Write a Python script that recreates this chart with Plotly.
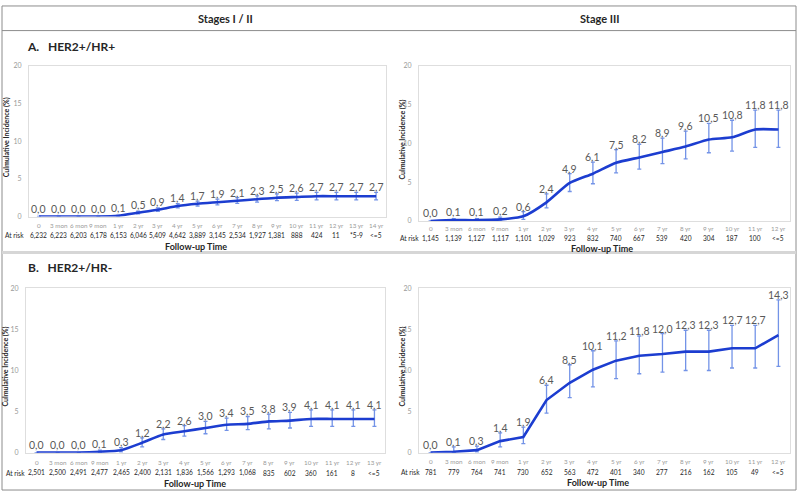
import plotly.graph_objects as go

W, H = 797, 494
FONT = "Lato"

# ---------------- data ----------------
cats_a1 = ["0", "3 mon", "6 mon", "9 mon", "1 yr", "2 yr", "3 yr", "4 yr", "5 yr", "6 yr",
           "7 yr", "8 yr", "9 yr", "10 yr", "11 yr", "12 yr", "13 yr", "14 yr"]
risk_a1 = ["6,232", "6,223", "6,203", "6,178", "6,153", "6,046", "5,409", "4,642", "3,889",
           "3,145", "2,534", "1,927", "1,381", "888", "424", "11", "*5-9", "<=5"]
val_a1 = [0.0, 0.0, 0.0, 0.0, 0.1, 0.5, 0.9, 1.4, 1.7, 1.9, 2.1, 2.3, 2.5, 2.6, 2.7, 2.7, 2.7, 2.7]
lo_a1 = [0, 0, 0, 0, 0.05, 0.35, 0.7, 1.15, 1.4, 1.55, 1.75, 1.9, 2.1, 2.15, 2.2, 2.2, 2.2, 2.2]
hi_a1 = [0, 0, 0, 0, 0.15, 0.7, 1.15, 1.7, 2.05, 2.3, 2.5, 2.75, 3.0, 3.1, 3.2, 3.2, 3.2, 3.2]

cats_a2 = ["0", "3 mon", "6 mon", "9 mon", "1 yr", "2 yr", "3 yr", "4 yr", "5 yr", "6 yr",
           "7 yr", "8 yr", "9 yr", "10 yr", "11 yr", "12 yr"]
risk_a2 = ["1,145", "1,139", "1,127", "1,117", "1,101", "1,029", "923", "832", "740", "667",
           "539", "420", "304", "187", "100", "<=5"]
val_a2 = [0.0, 0.1, 0.1, 0.2, 0.6, 2.4, 4.9, 6.1, 7.5, 8.2, 8.9, 9.6, 10.5, 10.8, 11.8, 11.8]
lo_a2 = [0, 0, 0, 0, 0.2, 1.7, 3.8, 4.8, 6.2, 6.7, 7.4, 8.0, 8.8, 9.0, 9.5, 9.5]
hi_a2 = [0, 0.3, 0.3, 0.5, 1.2, 3.5, 6.1, 7.6, 9.2, 9.9, 10.7, 11.6, 12.6, 13.0, 14.3, 14.3]

cats_b1 = ["0", "3 mon", "6 mon", "9 mon", "1 yr", "2 yr", "3 yr", "4 yr", "5 yr", "6 yr",
           "7 yr", "8 yr", "9 yr", "10 yr", "11 yr", "12 yr", "13 yr"]
risk_b1 = ["2,501", "2,500", "2,491", "2,477", "2,465", "2,400", "2,131", "1,836", "1,566",
           "1,293", "1,068", "835", "602", "360", "161", "8", "<=5"]
val_b1 = [0.0, 0.0, 0.0, 0.1, 0.3, 1.2, 2.2, 2.6, 3.0, 3.4, 3.5, 3.8, 3.9, 4.1, 4.1, 4.1, 4.1]
lo_b1 = [0, 0, 0, 0, 0.1, 0.7, 1.6, 2.0, 2.3, 2.7, 2.8, 2.9, 3.0, 3.2, 3.2, 3.2, 3.2]
hi_b1 = [0, 0, 0, 0.3, 0.6, 1.8, 2.9, 3.3, 3.8, 4.2, 4.4, 4.7, 4.9, 5.2, 5.2, 5.2, 5.2]

cats_b2 = ["0", "3 mon", "6 mon", "9 mon", "1 yr", "2 yr", "3 yr", "4 yr", "5 yr", "6 yr",
           "7 yr", "8 yr", "9 yr", "10 yr", "11 yr", "12 yr"]
risk_b2 = ["781", "779", "764", "741", "730", "652", "563", "472", "401", "340", "277",
           "216", "162", "105", "49", "<=5"]
val_b2 = [0.0, 0.1, 0.3, 1.4, 1.9, 6.4, 8.5, 10.1, 11.2, 11.8, 12.0, 12.3, 12.3, 12.7, 12.7, 14.3]
lo_b2 = [0, 0, 0.1, 0.7, 1.1, 4.8, 6.7, 8.0, 9.0, 9.6, 9.8, 10.0, 10.0, 10.3, 10.3, 10.5]
hi_b2 = [0, 0.7, 0.8, 2.4, 3.1, 8.2, 10.7, 12.4, 13.6, 14.2, 14.5, 14.9, 14.9, 15.5, 15.5, 18.6]

col_headers = ["Stages I / II", "Stage III"]
row_headers = ["A.   HER2+/HR+", "B.   HER2+/HR-"]
y_ticks = [0, 5, 10, 15, 20]
y_title = "Culmulative Incidence (%)"
x_title = "Follow-up Time"

# ---------------- layout helpers ----------------
def px_x(x):
    return x / W

def px_y(y):
    return 1 - y / H

panels = [
    dict(cats=cats_a1, risk=risk_a1, val=val_a1, lo=lo_a1, hi=hi_a1, shape="spline",
         bx=(29, 386), by=(215, 62), cat_y=224, risk_y=234, xt_y=245, xt_x=196, ar_x=14, yt_x=6),
    dict(cats=cats_a2, risk=risk_a2, val=val_a2, lo=lo_a2, hi=hi_a2, shape="spline",
         bx=(419, 790), by=(219.5, 62), cat_y=227, risk_y=237, xt_y=247, xt_x=602, ar_x=409, yt_x=403),
    dict(cats=cats_b1, risk=risk_b1, val=val_b1, lo=lo_b1, hi=hi_b1, shape="spline",
         bx=(26, 385), by=(455, 288), cat_y=465, risk_y=475.5, xt_y=486, xt_x=195, ar_x=16, yt_x=6),
    dict(cats=cats_b2, risk=risk_b2, val=val_b2, lo=lo_b2, hi=hi_b2, shape="linear",
         bx=(419, 790), by=(455, 288), cat_y=464, risk_y=475, xt_y=485, xt_x=598, ar_x=410, yt_x=403),
]

LINE_COL = "#1c3dd0"
ERR_COL = "rgba(80,120,225,0.8)"
LABEL_COL = "#595959"

fig = go.Figure()
annotations = []
shapes = []

for i, p in enumerate(panels, start=1):
    xa = "x" if i == 1 else f"x{i}"
    ya = "y" if i == 1 else f"y{i}"
    n = len(p["cats"])
    idx = list(range(n))
    err_p = [h - v for h, v in zip(p["hi"], p["val"])]
    err_m = [v - l for v, l in zip(p["val"], p["lo"])]
    fig.add_trace(go.Scatter(
        x=idx, y=p["val"], mode="lines", xaxis=xa, yaxis=ya,
        line=dict(color=LINE_COL, width=2.6, shape=p["shape"], smoothing=0.6),
        error_y=dict(type="data", array=err_p, arrayminus=err_m, symmetric=False,
                     color=ERR_COL, thickness=1.3, width=2),
        showlegend=False, hoverinfo="skip"))

    ppu = (p["by"][0] - p["by"][1]) / 20.0
    for k in idx:
        v, h = p["val"][k], p["hi"][k]
        shift = max(5.0, 8.0 - (h - v) * ppu)
        annotations.append(dict(
            x=k, y=h, xref=xa, yref=ya, text=f"{v:.1f}".replace(".", ","),
            showarrow=False, xanchor="center", yanchor="middle", yshift=shift,
            font=dict(family=FONT, size=10.5, color=LABEL_COL)))
        annotations.append(dict(
            x=k, y=px_y(p["cat_y"]), xref=xa, yref="paper", text=p["cats"][k],
            showarrow=False, xanchor="center", yanchor="middle",
            font=dict(family=FONT, size=6.3, color="#9a9a9a")))
        annotations.append(dict(
            x=k, y=px_y(p["risk_y"]), xref=xa, yref="paper", text=p["risk"][k],
            showarrow=False, xanchor="center", yanchor="middle",
            font=dict(family=FONT, size=6.6, color="#262626")))
    annotations.append(dict(
        x=px_x(p["ar_x"]), y=px_y(p["risk_y"]), xref="paper", yref="paper", text="At risk",
        showarrow=False, xanchor="center", yanchor="middle",
        font=dict(family=FONT, size=6.6, color="#262626")))
    annotations.append(dict(
        x=px_x(p["xt_x"]), y=px_y(p["xt_y"]), xref="paper", yref="paper",
        text=f"<b>{x_title}</b>", showarrow=False, xanchor="center", yanchor="middle",
        font=dict(family=FONT, size=9, color="#262626")))
    annotations.append(dict(
        x=px_x(p["yt_x"]), y=px_y((p["by"][0] + p["by"][1]) / 2 - 4), xref="paper", yref="paper",
        text=f"<b>{y_title}</b>", showarrow=False, textangle=-90,
        xanchor="center", yanchor="middle",
        font=dict(family=FONT, size=7, color="#262626")))

    axis_common = dict(showgrid=False, zeroline=False, showline=True, mirror=True,
                       linecolor="#dedede", linewidth=1)
    fig.layout[f"xaxis{'' if i == 1 else i}"] = dict(
        domain=[px_x(p["bx"][0]), px_x(p["bx"][1])], range=[-0.5, n - 0.5],
        showticklabels=False, ticks="", anchor=ya, **axis_common)
    fig.layout[f"yaxis{'' if i == 1 else i}"] = dict(
        domain=[px_y(p["by"][0]), px_y(p["by"][1])], range=[0, 20],
        tickvals=y_ticks, ticks="", ticklabelstandoff=5,
        tickfont=dict(family=FONT, size=7, color="#9a9a9a"), anchor=xa, **axis_common)

# headers
annotations.append(dict(x=px_x(225), y=px_y(14), xref="paper", yref="paper",
                        xanchor="center", yanchor="middle",
                        text=f"<b>{col_headers[0]}</b>", showarrow=False,
                        font=dict(family=FONT, size=11, color="#262626")))
annotations.append(dict(x=px_x(600), y=px_y(14), xref="paper", yref="paper",
                        xanchor="center", yanchor="middle",
                        text=f"<b>{col_headers[1]}</b>", showarrow=False,
                        font=dict(family=FONT, size=11, color="#262626")))
annotations.append(dict(x=px_x(25), y=px_y(42), xref="paper", yref="paper",
                        xanchor="left", yanchor="middle",
                        text=f"<b>{row_headers[0]}</b>", showarrow=False,
                        font=dict(family=FONT, size=12, color="#262626")))
annotations.append(dict(x=px_x(26), y=px_y(267), xref="paper", yref="paper",
                        xanchor="left", yanchor="middle",
                        text=f"<b>{row_headers[1]}</b>", showarrow=False,
                        font=dict(family=FONT, size=12, color="#262626")))

# frame lines
shapes.append(dict(type="rect", xref="paper", yref="paper", x0=px_x(2), x1=px_x(796),
                   y0=px_y(493), y1=px_y(1), line=dict(color="#8c8c8c", width=1)))
shapes.append(dict(type="line", xref="paper", yref="paper", x0=px_x(2), x1=px_x(796),
                   y0=px_y(26), y1=px_y(26), line=dict(color="#8c8c8c", width=1)))
shapes.append(dict(type="line", xref="paper", yref="paper", x0=px_x(2), x1=px_x(796),
                   y0=px_y(251.5), y1=px_y(251.5), line=dict(color="#d6d6d6", width=3)))

fig.update_layout(width=W, height=H, margin=dict(l=0, r=0, t=0, b=0),
                  paper_bgcolor="white", plot_bgcolor="white",
                  annotations=annotations, shapes=shapes,
                  font=dict(family=FONT))

fig.write_html("out.html")
